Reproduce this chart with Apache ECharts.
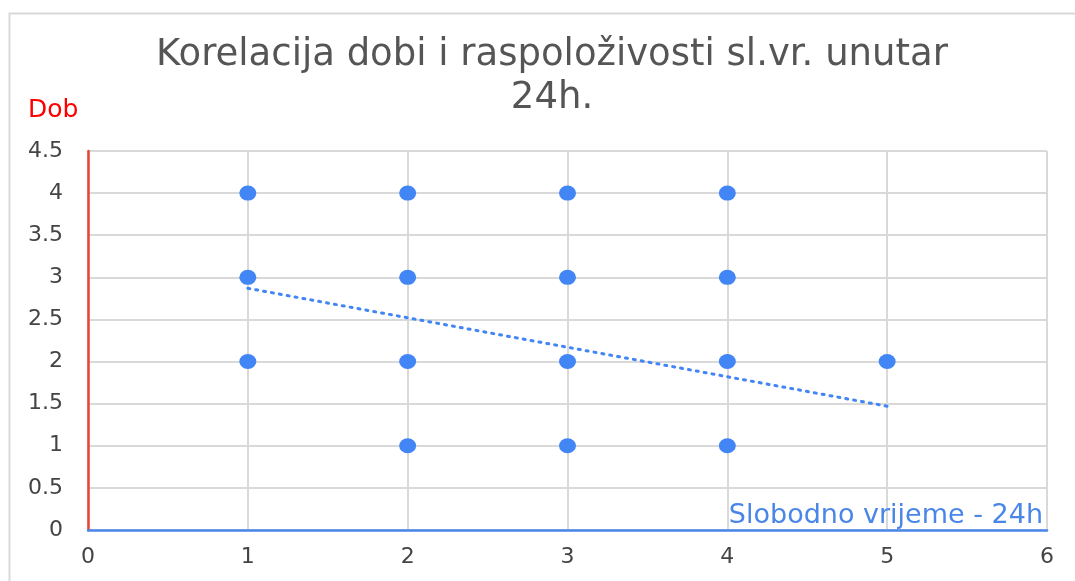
<!DOCTYPE html>
<html>
<head>
<meta charset="utf-8">
<script src="https://cdn.jsdelivr.net/npm/echarts@6/dist/echarts.min.js"></script>
<style>
html,body{margin:0;padding:0;background:#fff;}
#c{width:1075px;height:581px;}
</style>
</head>
<body>
<div id="c"></div>
<script>
const titleText = 'Korelacija dobi i raspoloživosti sl.vr. unutar\n24h.';
const xName = 'Slobodno vrijeme - 24h';
const yName = 'Dob';
const freeTime = [1, 1, 1, 2, 2, 2, 2, 3, 3, 3, 3, 4, 4, 4, 4, 5];
const age =      [4, 3, 2, 4, 3, 2, 1, 4, 3, 2, 1, 4, 3, 2, 1, 2];
const trendX = [1, 5];
const trendY = [2.87, 1.47];

const FONT = 'DejaVu Sans';
const chart = echarts.init(document.getElementById('c'));
const pts = freeTime.map((x, i) => [x, age[i]]);
const trend = trendX.map((x, i) => [x, trendY[i]]);

chart.setOption({
  animation: false,
  backgroundColor: '#fff',
  graphic: [{
    type: 'rect', left: 7, top: 11, z: -10,
    shape: {width: 1200, height: 700},
    style: {fill: 'none', stroke: '#d9d9d9', lineWidth: 2}
  }],
  title: {
    text: titleText,
    left: 547, top: 29, textAlign: 'center',
    textStyle: {color: '#555555', fontSize: 37, fontWeight: 'normal', fontFamily: FONT, lineHeight: 43}
  },
  grid: {left: 88, right: 28, top: 151, bottom: 51},
  xAxis: {
    type: 'value', min: 0, max: 6, interval: 1,
    name: xName, nameLocation: 'end', nameGap: -4,
    nameTextStyle: {color: '#4a86e8', fontSize: 27, fontFamily: FONT, align: 'right', verticalAlign: 'bottom', padding: [0, 0, 1, 0]},
    axisLine: {show: true, lineStyle: {color: '#4a86e8', width: 2.5}},
    axisTick: {show: false},
    axisLabel: {color: '#444', fontSize: 22, margin: 16, fontFamily: FONT},
    splitLine: {show: true, lineStyle: {color: '#d9d9d9', width: 2}}
  },
  yAxis: {
    type: 'value', min: 0, max: 4.5, interval: 0.5,
    name: yName, nameLocation: 'end', nameGap: 30,
    nameTextStyle: {color: '#ff0000', fontSize: 25, fontFamily: FONT, align: 'left', padding: [0, 0, -2, -60]},
    axisLine: {show: true, lineStyle: {color: '#ea4335', width: 2.5}},
    axisTick: {show: false},
    axisLabel: {color: '#444', fontSize: 22, margin: 25, fontFamily: FONT},
    splitLine: {show: true, lineStyle: {color: '#d9d9d9', width: 2}}
  },
  series: [{
    type: 'scatter',
    data: pts,
    symbol: 'circle', symbolSize: [17, 15],
    itemStyle: {color: '#4285f4', opacity: 1},
    z: 3
  }, {
    type: 'line',
    data: trend,
    symbol: 'none',
    lineStyle: {color: '#4285f4', width: 3, type: [2, 6], cap: 'round'},
    z: 4
  }]
});
</script>
</body>
</html>
